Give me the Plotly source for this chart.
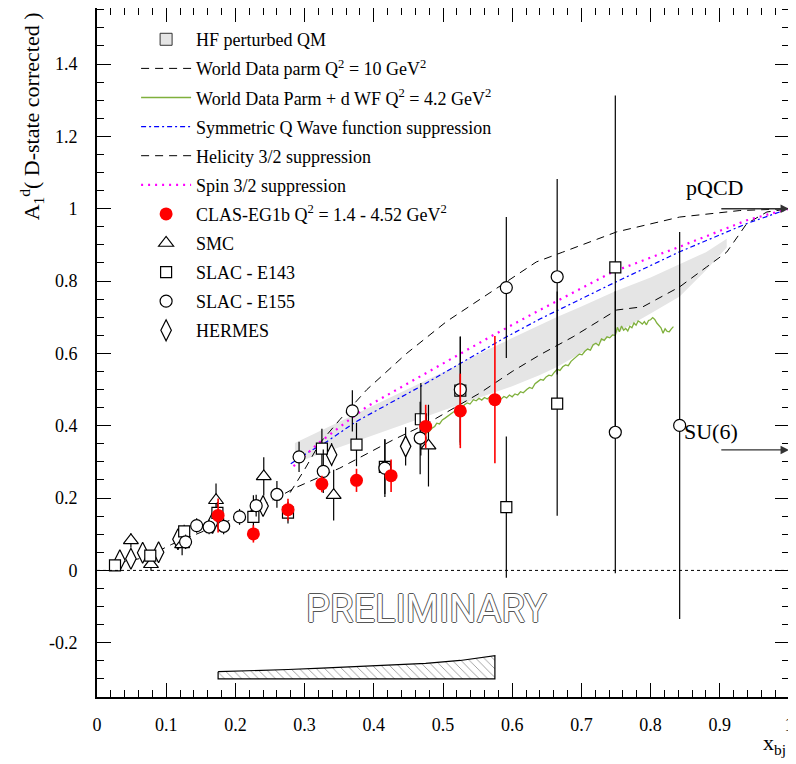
import plotly.graph_objects as go

# ---------------- data ----------------
CLAS_X = [0.175, 0.226, 0.276, 0.325, 0.375, 0.425, 0.475, 0.525, 0.575]
CLAS_Y = [0.152, 0.101, 0.168, 0.239, 0.249, 0.262, 0.398, 0.441, 0.472]
CLAS_ERR = [0.047, 0.024, 0.030, 0.023, 0.032, 0.045, 0.060, 0.103, 0.176]
SYS_BASE = -0.30
SYS_ERR = [0.020, 0.022, 0.026, 0.030, 0.034, 0.038, 0.043, 0.051, 0.064]

SMC_X = [0.049, 0.078, 0.123, 0.172, 0.241, 0.342, 0.479]
SMC_Y = [0.083, 0.017, 0.072, 0.194, 0.260, 0.208, 0.345]
SMC_ERR = [0.020, 0.018, 0.030, 0.046, 0.053, 0.070, 0.113]

E143_X = [0.026, 0.077, 0.126, 0.174, 0.226, 0.276, 0.325, 0.375, 0.416, 0.468, 0.525, 0.5915, 0.665, 0.749]
E143_Y = [0.014, 0.041, 0.108, 0.159, 0.148, 0.160, 0.337, 0.348, 0.286, 0.418, 0.497, 0.175, 0.461, 0.838]
E143_ERR = [0.010, 0.012, 0.018, 0.030, 0.060, 0.030, 0.055, 0.060, 0.075, 0.100, 0.150, 0.195, 0.310, 0.475]

E155_X = [0.128, 0.144, 0.162, 0.183, 0.206, 0.230, 0.260, 0.292, 0.327, 0.369, 0.416, 0.467, 0.525, 0.5915, 0.665, 0.749, 0.842]
E155_Y = [0.079, 0.124, 0.120, 0.122, 0.148, 0.179, 0.210, 0.314, 0.274, 0.441, 0.283, 0.366, 0.500, 0.782, 0.812, 0.382, 0.401]
E155_ERR = [0.020, 0.020, 0.020, 0.022, 0.022, 0.030, 0.037, 0.042, 0.060, 0.057, 0.080, 0.100, 0.146, 0.195, 0.270, 0.390, 0.535]

HERMES_X = [0.033, 0.049, 0.066, 0.089, 0.117, 0.167, 0.240, 0.339, 0.446]
HERMES_Y = [0.028, 0.032, 0.049, 0.050, 0.086, 0.131, 0.178, 0.320, 0.343]
HERMES_ERR = [0.008, 0.008, 0.010, 0.012, 0.014, 0.020, 0.025, 0.032, 0.053]

# HF perturbed QM band
BAND_X = [0.286, 0.35, 0.40, 0.45, 0.50, 0.553, 0.60, 0.64, 0.664, 0.70, 0.749, 0.80, 0.842, 0.88, 0.91]
BAND_TOP = [0.352, 0.410, 0.456, 0.502, 0.548, 0.600, 0.643, 0.679, 0.700, 0.730, 0.772, 0.810, 0.846, 0.880, 0.917]
BAND_BOT = [0.297, 0.340, 0.374, 0.408, 0.442, 0.478, 0.509, 0.540, 0.562, 0.600, 0.654, 0.710, 0.757, 0.830, 0.893]

# World data parametrisation Q2 = 10
WD_X = [0.03, 0.07, 0.108, 0.15, 0.195, 0.24, 0.286, 0.351, 0.428, 0.476, 0.553, 0.60, 0.64, 0.688, 0.751, 0.789, 0.842, 0.881, 0.91, 0.939, 0.968, 1.0]
WD_Y = [0.020, 0.036, 0.072, 0.105, 0.141, 0.180, 0.228, 0.283, 0.361, 0.405, 0.490, 0.550, 0.596, 0.646, 0.720, 0.729, 0.784, 0.839, 0.880, 0.959, 0.991, 1.0]

# Helicity 3/2 suppression
HEL_X = [0.279, 0.30, 0.322, 0.351, 0.39, 0.4475, 0.505, 0.573, 0.635, 0.673, 0.751, 0.842, 0.929, 1.0]
HEL_Y = [0.215, 0.279, 0.352, 0.417, 0.500, 0.600, 0.688, 0.775, 0.853, 0.880, 0.936, 0.977, 0.995, 1.0]

# Symmetric Q wave function suppression
SYM_X = [0.28, 0.308, 0.329, 0.375, 0.467, 0.534, 0.592, 0.64, 0.746, 0.842, 0.939, 1.0]
SYM_Y = [0.295, 0.330, 0.352, 0.412, 0.508, 0.582, 0.646, 0.695, 0.794, 0.881, 0.959, 1.0]

# Spin 3/2 suppression
SPIN_X = [0.284, 0.305, 0.32, 0.39, 0.472, 0.573, 0.64, 0.746, 0.842, 0.939, 1.0]
SPIN_Y = [0.288, 0.325, 0.352, 0.453, 0.541, 0.651, 0.720, 0.826, 0.895, 0.968, 1.0]

# World data parm + d WF Q2 = 4.2
GRN_X = [0.464, 0.468, 0.472, 0.476, 0.480, 0.484, 0.488, 0.491, 0.495, 0.499, 0.503, 0.507, 0.511, 0.515,
         0.519, 0.523, 0.527, 0.531, 0.535, 0.539, 0.544, 0.548, 0.552, 0.556, 0.560, 0.564, 0.568, 0.572,
         0.576, 0.580, 0.584, 0.588, 0.592, 0.596, 0.600, 0.604, 0.608, 0.612, 0.616, 0.621, 0.625, 0.629,
         0.633, 0.637, 0.641, 0.645, 0.649, 0.653, 0.657, 0.661, 0.665, 0.669, 0.673, 0.677, 0.681, 0.685,
         0.689, 0.693, 0.697, 0.701, 0.705, 0.709, 0.713, 0.717, 0.721, 0.725, 0.729, 0.733, 0.737, 0.741,
         0.745, 0.749, 0.752, 0.755, 0.758, 0.761, 0.764, 0.767, 0.770, 0.773, 0.776, 0.779, 0.782, 0.785,
         0.788, 0.791, 0.794, 0.797, 0.800, 0.803, 0.806, 0.809, 0.812, 0.815, 0.818, 0.821, 0.824, 0.827,
         0.830, 0.833]
GRN_Y = [0.361, 0.368, 0.366, 0.380, 0.384, 0.393, 0.398, 0.407, 0.405, 0.416, 0.421, 0.427, 0.431, 0.438,
         0.441, 0.452, 0.449, 0.458, 0.463, 0.460, 0.472, 0.469, 0.476, 0.471, 0.478, 0.474, 0.480, 0.476,
         0.471, 0.479, 0.474, 0.481, 0.477, 0.485, 0.480, 0.488, 0.485, 0.494, 0.491, 0.500, 0.506, 0.503,
         0.516, 0.522, 0.528, 0.526, 0.535, 0.540, 0.538, 0.548, 0.556, 0.553, 0.563, 0.568, 0.566, 0.578,
         0.584, 0.590, 0.598, 0.596, 0.606, 0.612, 0.609, 0.624, 0.628, 0.622, 0.640, 0.636, 0.646, 0.643,
         0.651, 0.650, 0.672, 0.660, 0.676, 0.664, 0.669, 0.662, 0.675, 0.671, 0.684, 0.678, 0.690, 0.686,
         0.681, 0.688, 0.679, 0.691, 0.693, 0.699, 0.694, 0.684, 0.676, 0.671, 0.656, 0.668, 0.661, 0.660,
         0.668, 0.674]

PQCD_VALUE = 1.0
SU6_VALUE = 0.333
ARROW_X0 = 0.9

X_TICKS = [0, 0.1, 0.2, 0.3, 0.4, 0.5, 0.6, 0.7, 0.8, 0.9, 1.0]
X_TICK_LABELS = ["0", "0.1", "0.2", "0.3", "0.4", "0.5", "0.6", "0.7", "0.8", "0.9", "1"]
Y_TICKS = [-0.2, 0, 0.2, 0.4, 0.6, 0.8, 1.0, 1.2, 1.4]
Y_TICK_LABELS = ["-0.2", "0", "0.2", "0.4", "0.6", "0.8", "1", "1.2", "1.4"]

SERIF = "Liberation Serif, Times New Roman, serif"

fig = go.Figure()

# band (no border)
fig.add_trace(go.Scatter(
    x=BAND_X + BAND_X[::-1], y=BAND_TOP + BAND_BOT[::-1],
    fill="toself", fillcolor="#e5e5e5", mode="lines", line=dict(width=0),
    showlegend=False, hoverinfo="skip"))
# legend entry for band (box icon)
fig.add_trace(go.Bar(
    x=[None], y=[None], marker=dict(color="#e5e5e5", line=dict(color="#333333", width=1)),
    name="HF perturbed QM", legendgroup="g1", legendrank=1))

# systematic error band (hatched)
sys_top = [SYS_BASE + s for s in SYS_ERR]
fig.add_trace(go.Scatter(
    x=CLAS_X + [CLAS_X[-1], CLAS_X[0], CLAS_X[0]],
    y=sys_top + [SYS_BASE, SYS_BASE, sys_top[0]],
    fill="toself", fillcolor="white",
    fillpattern=dict(shape="\\", fgcolor="black", bgcolor="white", size=6, solidity=0.12),
    mode="lines", line=dict(color="black", width=1.2),
    showlegend=False, hoverinfo="skip"))

fig.add_trace(go.Scatter(
    x=WD_X, y=WD_Y, mode="lines", line=dict(color="black", width=1, dash="8px,6px"),
    name="World Data parm Q<sup>2</sup> = 10 GeV<sup>2</sup>", legendgroup="g2", legendrank=2))
fig.add_trace(go.Scatter(
    x=HEL_X, y=HEL_Y, mode="lines", line=dict(color="black", width=1, dash="8px,6px"),
    name="Helicity 3/2 suppression", legendgroup="g5", legendrank=5))
fig.add_trace(go.Scatter(
    x=GRN_X, y=GRN_Y, mode="lines", line=dict(color="#7fb03c", width=1.3),
    name="World Data Parm + d WF Q<sup>2</sup> = 4.2 GeV<sup>2</sup>", legendgroup="g3", legendrank=3))
fig.add_trace(go.Scatter(
    x=SYM_X, y=SYM_Y, mode="lines", line=dict(color="blue", width=1.2, dash="5px,3px,2px,3px"),
    name="Symmetric Q Wave function suppression", legendgroup="g4", legendrank=4))
fig.add_trace(go.Scatter(
    x=SPIN_X, y=SPIN_Y, mode="lines", line=dict(color="#ff00ff", width=2.2, dash="2px,5px"),
    name="Spin 3/2 suppression", legendgroup="g6", legendrank=6))

def err(arr, color="black", th=1.2):
    return dict(type="data", array=arr, visible=True, thickness=th, width=0, color=color)

fig.add_trace(go.Scatter(
    x=HERMES_X, y=HERMES_Y, mode="markers", error_y=err(HERMES_ERR),
    marker=dict(symbol="diamond-tall", size=15, color="white", line=dict(color="black", width=1.2)),
    name="HERMES", legendgroup="g11", legendrank=11))
fig.add_trace(go.Scatter(
    x=SMC_X, y=SMC_Y, mode="markers", error_y=err(SMC_ERR),
    marker=dict(symbol="triangle-up", size=13, color="white", line=dict(color="black", width=1.2)),
    name="SMC", legendgroup="g8", legendrank=8))
fig.add_trace(go.Scatter(
    x=E143_X, y=E143_Y, mode="markers", error_y=err(E143_ERR),
    marker=dict(symbol="square", size=11, color="white", line=dict(color="black", width=1.2)),
    name="SLAC - E143", legendgroup="g9", legendrank=9))
fig.add_trace(go.Scatter(
    x=E155_X, y=E155_Y, mode="markers", error_y=err(E155_ERR),
    marker=dict(symbol="circle", size=12, color="white", line=dict(color="black", width=1.2)),
    name="SLAC - E155", legendgroup="g10", legendrank=10))
fig.add_trace(go.Scatter(
    x=CLAS_X, y=CLAS_Y, mode="markers", error_y=err(CLAS_ERR, "red", 1.6),
    marker=dict(symbol="circle", size=13, color="red"),
    name="CLAS-EG1b Q<sup>2</sup> = 1.4 - 4.52 GeV<sup>2</sup>", legendgroup="g7", legendrank=7))

axis_common = dict(
    ticks="inside", ticklen=14, tickwidth=1.2, tickcolor="black",
    showline=True, linewidth=2, linecolor="black", mirror="allticks",
    showgrid=False, zeroline=False, automargin=False,
    tickfont=dict(family=SERIF, size=18, color="black"),
)

# page body adds an 8px offset, so the figure is 8px smaller on each side
fig.update_layout(
    width=788, height=756,
    margin=dict(l=89, r=7, t=0, b=67, autoexpand=False),
    plot_bgcolor="white", paper_bgcolor="white",
    font=dict(family=SERIF, color="black"),
    xaxis=dict(range=[0, 1], tickmode="array", tickvals=X_TICKS, ticktext=X_TICK_LABELS,
               minor=dict(tick0=0, dtick=0.02, ticks="inside", ticklen=7, tickwidth=1, tickcolor="black"),
               ticklabelstandoff=10, **axis_common),
    yaxis=dict(range=[-0.35, 1.555], tickmode="array", tickvals=Y_TICKS, ticktext=Y_TICK_LABELS,
               minor=dict(tick0=0, dtick=0.05, ticks="inside", ticklen=7, tickwidth=1, tickcolor="black"),
               ticklabelstandoff=14, **axis_common),
    legend=dict(x=0.0565, y=0.981, xanchor="left", yanchor="top",
                bgcolor="rgba(0,0,0,0)", borderwidth=0,
                font=dict(family=SERIF, size=18, color="black"),
                traceorder="grouped", tracegroupgap=2.7, itemwidth=50),
    showlegend=True,
    barmode="overlay",
)

# zero line
fig.add_shape(type="line", xref="x", yref="y", x0=0, x1=1, y0=0, y1=0,
              line=dict(color="black", width=1, dash="dot"))

# arrows
fig.add_annotation(x=1.0, y=PQCD_VALUE, ax=ARROW_X0, ay=PQCD_VALUE, xref="x", yref="y",
                   axref="x", ayref="y", showarrow=True, arrowhead=2, arrowsize=1.3,
                   arrowwidth=1.3, arrowcolor="#333333", text="")
fig.add_annotation(x=1.0, y=SU6_VALUE, ax=ARROW_X0, ay=SU6_VALUE, xref="x", yref="y",
                   axref="x", ayref="y", showarrow=True, arrowhead=2, arrowsize=1.3,
                   arrowwidth=1.3, arrowcolor="#333333", text="")
fig.add_annotation(x=0.848, y=1.06, xref="x", yref="y", text="pQCD", showarrow=False,
                   xanchor="left", yanchor="middle", font=dict(family=SERIF, size=22, color="black"))
fig.add_annotation(x=0.846, y=0.383, xref="x", yref="y", text="SU(6)", showarrow=False,
                   xanchor="left", yanchor="middle", font=dict(family=SERIF, size=22, color="black"))

# PRELIMINARY
fig.add_annotation(x=0.476, y=-0.108, xref="x", yref="y", text="PRELIMINARY", showarrow=False,
                   xanchor="center", yanchor="middle",
                   font=dict(family="Roboto", size=38, color="white",
                             shadow="1px 0 0 #555, -1px 0 0 #555, 0 1px 0 #555, 0 -1px 0 #555"))

# axis titles
fig.add_annotation(x=-0.095, y=0.997, xref="paper", yref="paper",
                   text="A<sub>1</sub><sup>d</sup>( D-state corrected )", textangle=-90,
                   showarrow=False, xanchor="center", yanchor="top",
                   font=dict(family=SERIF, size=22, color="black"))
fig.add_annotation(x=0.998, y=-0.068, xref="paper", yref="paper", text="x<sub>bj</sub>",
                   showarrow=False, xanchor="right", yanchor="middle",
                   font=dict(family=SERIF, size=22, color="black"))

fig.write_html("out.html")
